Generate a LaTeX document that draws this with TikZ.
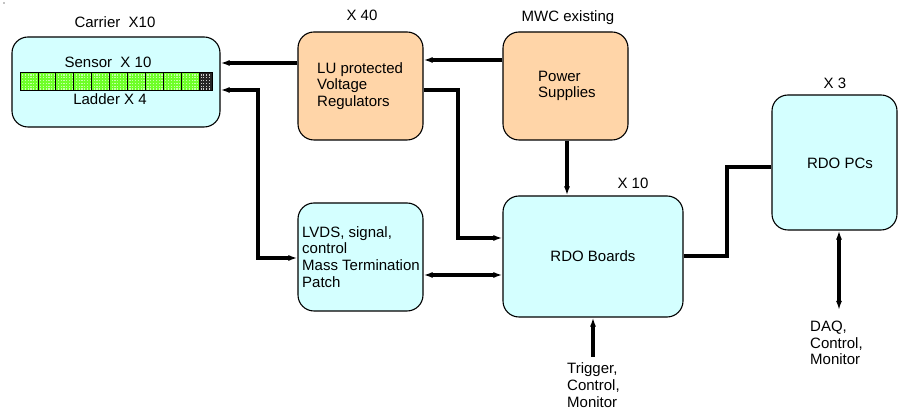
\documentclass[tikz,border=0pt]{standalone}
\usepackage{fontspec}
\setmainfont{Liberation Sans}
\usetikzlibrary{arrows.meta}
\definecolor{boxcyan}{RGB}{212,255,255}
\definecolor{boxpeach}{RGB}{255,213,168}
\definecolor{cellgreen}{RGB}{110,255,40}
\begin{document}
\begin{tikzpicture}[x=1pt,y=-1pt,
  blk/.style={draw=black,line width=1.1pt,rounded corners=16pt,inner sep=0pt,minimum width=#1},
  cy/.style={fill=boxcyan},
  pe/.style={fill=boxpeach},
  lbl/.style={inner sep=0pt,font=\fontsize{15}{16.8}\selectfont},
  mlbl/.style={inner sep=0pt,anchor=west,align=left,font=\fontsize{15}{16.8}\selectfont},
  wire/.style={line width=3.6pt},
  tip/.style={-{Latex[length=9pt,width=6pt]}},
  tips/.style={{Latex[length=9pt,width=6pt]}-{Latex[length=9pt,width=6pt]}}
]
\useasboundingbox (0,0) rectangle (898,411);
\fill (4,3) circle (0.7);
% boxes
\node[blk=208pt,cy,minimum height=90pt] (carrier) at (116,82) {};
\node[blk=125pt,pe,minimum height=108pt] (lu) at (360.5,86) {};
\node[blk=125pt,pe,minimum height=108pt] (ps) at (565.5,86) {};
\node[blk=125pt,cy,minimum height=108pt] (lvds) at (360.5,257) {};
\node[blk=180pt,cy,minimum height=121pt] (rdo) at (593,256.5) {};
\node[blk=125pt,cy,minimum height=135pt] (pcs) at (834.5,162.5) {};
% ladder strip
\foreach \i in {0,...,9}{
  \fill[cellgreen] (20+\i*17.9,72) rectangle (20+\i*17.9+17.9,90);
  \foreach \a in {0,...,5}{\foreach \b in {0,...,5}{
    \fill[white!60!cellgreen] (22+\i*17.9+\a*2.8,74.5+\b*2.8) rectangle ++(1.2,1.2);}}
  \draw[line width=0.8pt] (20+\i*17.9,72) rectangle (20+\i*17.9+17.9,90);
}
\fill[black!85] (199,72) rectangle (212,90);
\foreach \a in {0,...,3}{\foreach \b in {0,...,5}{
  \fill[white!80!black] (200.5+\a*2.8,74.5+\b*2.8) rectangle ++(1.1,1.1);}}
\draw[line width=0.8pt] (199,72) rectangle (212,90);
% labels
\node[lbl] (tcar) at (115,22) {Carrier\ \ X10};
\node[lbl] (tsen) at (108,62) {Sensor\ \ X 10};
\node[lbl] (tlad) at (110,99) {Ladder X 4};
\node[lbl] (tx40) at (362,15) {X 40};
\node[lbl] (tmwc) at (568,18) {MWC existing};
\node[lbl] (tx10) at (633,183) {X 10};
\node[lbl] (tx3) at (835,83) {X 3};
\node[mlbl] (tlu) at (317,86) {LU protected\\Voltage\\Regulators};
\node[mlbl] (tps) at (538,86) {Power\\Supplies};
\node[mlbl] (tlv) at (302,257) {LVDS, signal,\\control\\Mass Termination\\Patch};
\node[lbl] (trdo) at (593,256) {RDO Boards};
\node[lbl] (tpcs) at (840,163) {RDO PCs};
\node[mlbl] (ttrig) at (567,385) {Trigger,\\Control,\\Monitor};
\node[mlbl] (tdaq) at (810,343) {DAQ,\\Control,\\Monitor};
% coordinates
\coordinate (trig) at (593,357);
\coordinate (daq) at (839,310);
% connectors
\draw[wire,tip] (ps.west |- 0,60) -- (lu.east |- 0,60);
\draw[wire,tip] (lu.west |- 0,63) -- (carrier.east |- 0,63);
\draw[wire,tip] (lu.east |- 0,90) -- (458,90) -- (458,238) -- (rdo.west |- 0,238);
\draw[wire,tip] (ps.south -| 567,0) -- (rdo.north -| 567,0);
\draw[wire,tips] (carrier.east |- 0,90) -- (258,90) -- (258,258) -- (lvds.west |- 0,258);
\draw[wire,tips] (lvds.east |- 0,275) -- (rdo.west |- 0,275);
\draw[wire] (rdo.east |- 0,256) -- (727,256) -- (727,167) -- (pcs.west |- 0,167);
\draw[wire,tip] (trig) -- (rdo.south -| trig);
\draw[wire,tips] (pcs.south -| daq) -- (daq);
\end{tikzpicture}
\end{document}
